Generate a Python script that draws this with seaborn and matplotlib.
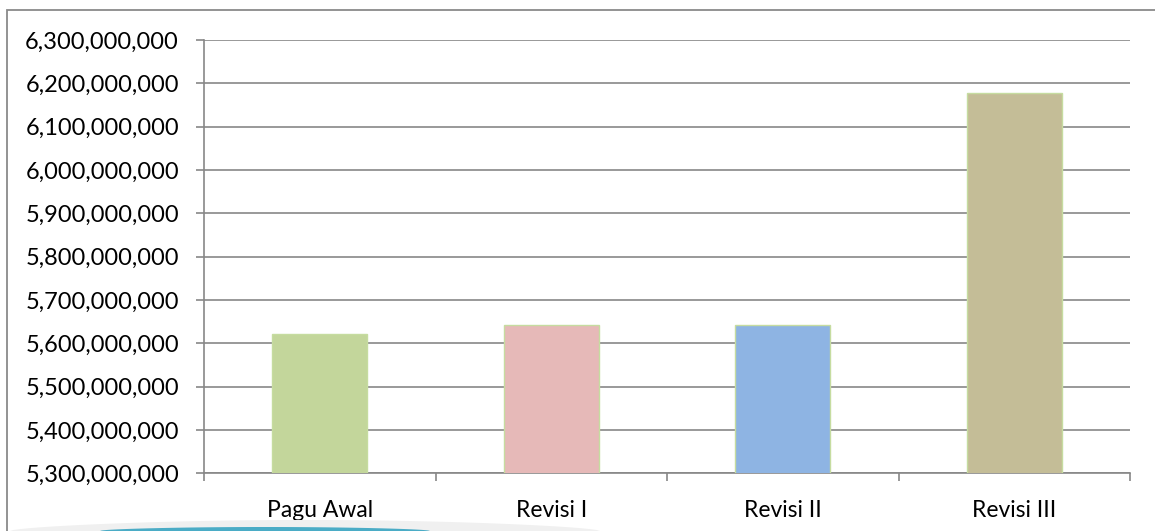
import numpy as np
import pandas as pd
import matplotlib
matplotlib.use("Agg")
import matplotlib.pyplot as plt
import seaborn as sns
from matplotlib.patches import Rectangle, Polygon
from matplotlib.ticker import FuncFormatter, FixedLocator

# Budget stages and their ceiling amounts (Rupiah)
categories = ["Pagu Awal", "Revisi I", "Revisi II", "Revisi III"]
amounts = [5_621_000_000, 5_642_000_000, 5_642_000_000, 6_177_000_000]
y_ticks = [5_300_000_000 + i * 100_000_000 for i in range(11)]

bar_colors = ["#c3d69b", "#e6b9b8", "#8eb4e3", "#c4bd97"]
grid_gray = "#878787"

sns.set_theme(style="white")
plt.rcParams["font.family"] = ["Lato", "DejaVu Sans"]

W, H, DPI = 1155, 531, 100
fig = plt.figure(figsize=(W / DPI, H / DPI), dpi=DPI)
fig.patch.set_facecolor("white")

ax = fig.add_axes([204 / W, 1 - 473.3 / H, (1130 - 204) / W, (473.3 - 40) / H])

df = pd.DataFrame({"tahap": categories, "pagu": amounts})
sns.barplot(data=df, x="tahap", y="pagu", hue="tahap", palette=bar_colors,
            width=0.41, legend=False, ax=ax, edgecolor="#c6dca0", linewidth=1.0,
            saturation=1, zorder=3)

ax.set_ylim(y_ticks[0], y_ticks[-1])
ax.set_xlim(-0.5, len(categories) - 0.5)
ax.yaxis.set_major_locator(FixedLocator(y_ticks))
ax.yaxis.set_major_formatter(FuncFormatter(lambda v, p: f"{int(round(v)):,}"))
ax.grid(axis="y", color=grid_gray, linewidth=1.2, zorder=0)
ax.set_axisbelow(True)
ax.set_xlabel("")
ax.set_ylabel("")

for s in ["top", "right"]:
    ax.spines[s].set_visible(False)
for s in ["left", "bottom"]:
    ax.spines[s].set_color(grid_gray)
    ax.spines[s].set_linewidth(1.2)

ax.tick_params(axis="y", which="major", length=6, width=1.2, color=grid_gray,
               pad=12, labelsize=17, labelcolor="black", left=True)
ax.tick_params(axis="x", which="major", length=0, pad=19, labelsize=16.5,
               labelcolor="black")
ax.set_xticks(np.arange(-0.5, len(categories)), minor=True)
ax.tick_params(axis="x", which="minor", length=6, width=1.2, color=grid_gray,
               bottom=True)

# Chart border
fig.add_artist(Rectangle((7 / W, -0.2), 1.5, 1 - 9.5 / H + 0.2,
                         transform=fig.transFigure, fill=False,
                         edgecolor="#8a8a8a", linewidth=1.3))

# Decorative swoosh along the bottom
xs = np.linspace(10, 600, 200)
top_g = 531 - 11 * np.sin(np.pi * (xs - 10) / 590) ** 0.6
fig.add_artist(Polygon(np.column_stack([np.r_[xs, xs[::-1]] / W,
                                        1 - np.r_[top_g, np.full_like(xs, 531)] / H]),
                       closed=True, transform=fig.transFigure,
                       facecolor="#f0f0f0", edgecolor="none"))
xb = np.linspace(100, 430, 200)
top_b = 531 - 4 * np.sin(np.pi * (xb - 100) / 330) ** 0.5
fig.add_artist(Polygon(np.column_stack([np.r_[xb, xb[::-1]] / W,
                                        1 - np.r_[top_b, np.full_like(xb, 531)] / H]),
                       closed=True, transform=fig.transFigure,
                       facecolor="#4bacc6", edgecolor="none"))

fig.savefig("out.png", dpi=DPI, facecolor="white")
